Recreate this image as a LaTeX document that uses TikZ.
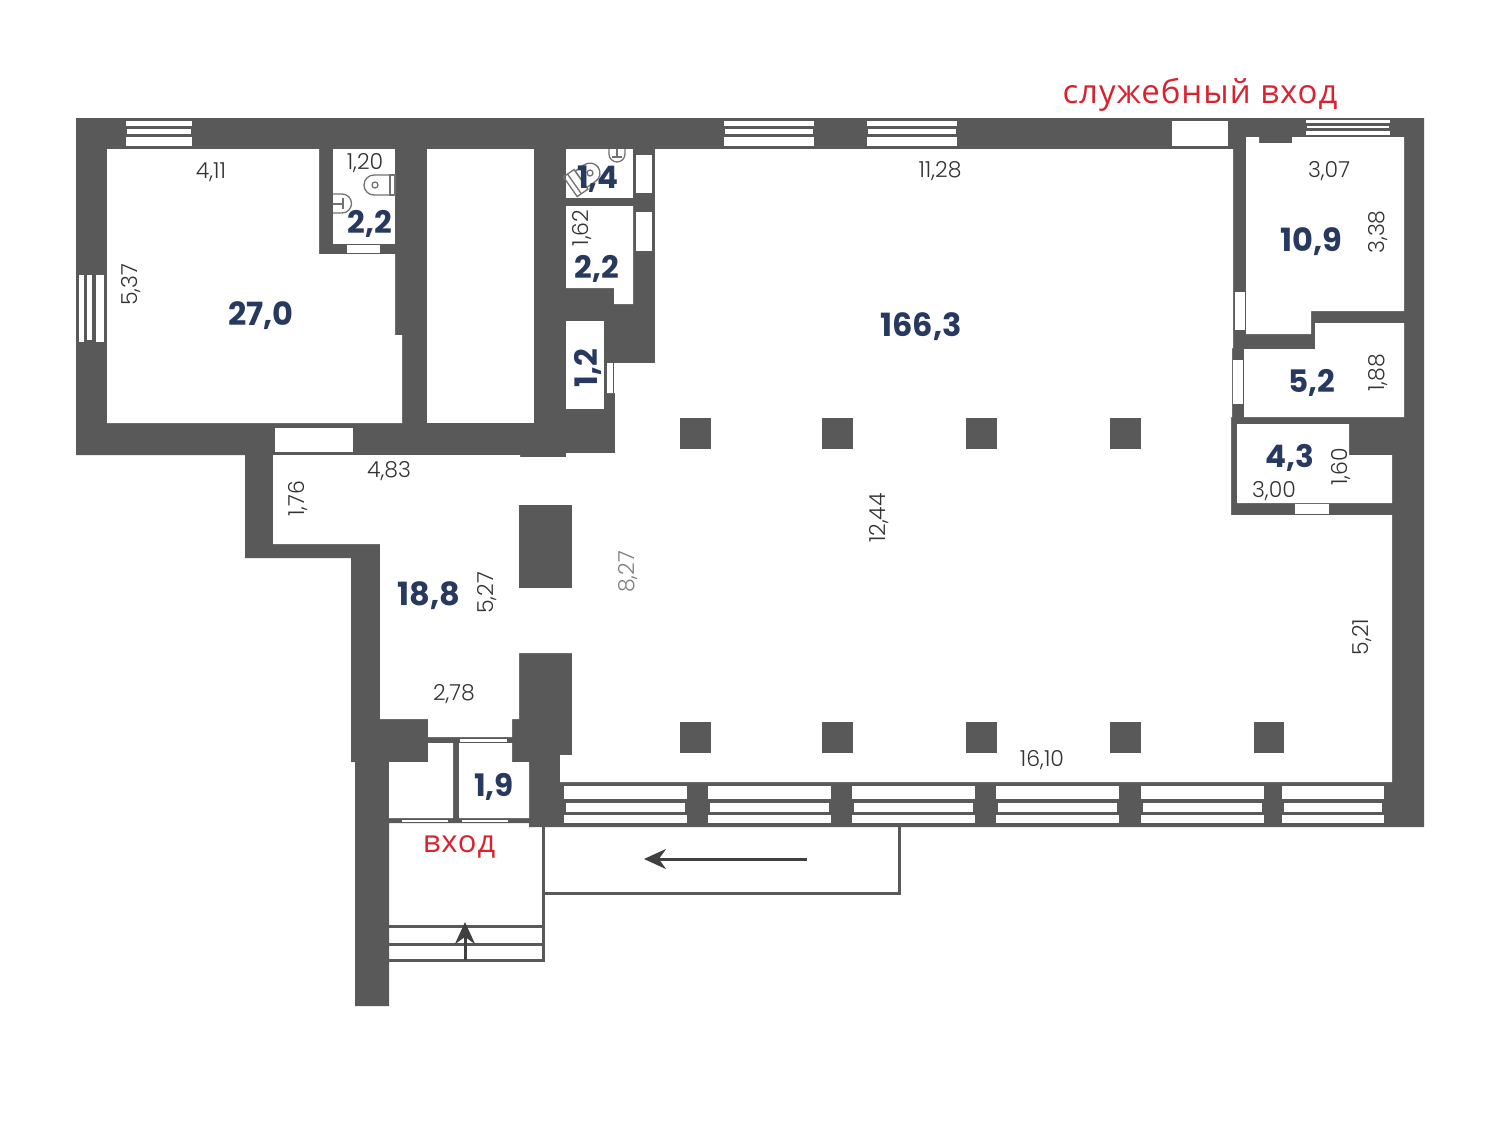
\documentclass[tikz,border=0pt]{standalone}
\usepackage{fontspec}
\setmainfont{Poppins}
\newfontfamily\dimfont{Poppins Light}
\newfontfamily\labelfont[LetterSpace=3]{Open Sans}
\definecolor{wallgrey}{HTML}{595959}
\definecolor{navy}{HTML}{27395F}
\definecolor{dimink}{HTML}{333333}
\definecolor{redink}{HTML}{D8232F}
\usetikzlibrary{arrows.meta}
\tikzset{
  wall/.style={fill=wallgrey},
  room/.style={fill=white},
  opening/.style={fill=white},
  pier/.style={fill=wallgrey},
  area/.style={text=navy,font=\fontsize{32}{32}\selectfont\bfseries,inner sep=0pt},
  areasm/.style={text=navy,font=\fontsize{31}{31}\selectfont\bfseries,inner sep=0pt},
  dim/.style={text=dimink,font=\dimfont\fontsize{22}{22}\selectfont,inner sep=0pt},
  redlabel/.style={text=redink,inner sep=0pt},
  thinline/.style={draw=wallgrey,line width=3pt},
  fixture/.style={draw=wallgrey!85,line width=1.3pt},
  flow/.style={draw=black!75,line width=3pt,-{Stealth[length=22pt,width=20pt]}}
}
\begin{document}
\begin{tikzpicture}[x=1pt,y=-1pt]
\useasboundingbox (0,0) rectangle (1500,1125);
% walls
\path[wall] (76,118)--(1424,118)--(1424,827)--(529,827)--(529,823)--(389,823)--(389,1006)--(355,1006)--(355,762)--(351,762)--(351,558)--(245,558)--(245,455)--(76,455)--cycle;
% main hall
\path[room] (655,149)--(1233,149)--(1233,348)--(1232,348)--(1232,417)--(1231,417)--(1231,515)--(1392,515)--(1392,782)--(560,782)--(560,755)--(572,755)--(572,653)--(519,653)--(519,719)--(512,719)--(512,737)--(428,737)--(428,719)--(380,719)--(380,544)--(273,544)--(273,455)--(520,455)--(520,457)--(566,457)--(566,453)--(615,453)--(615,393)--(607,393)--(607,363)--(655,363)--cycle;
% rooms
\path[room] (107,149)--(319,149)--(319,254)--(395,254)--(395,335)--(402,335)--(402,423)--(107,423)--cycle;
\path[room] (333,149) rectangle (395,244);
\path[room] (427,149) rectangle (534,423);
\path[room] (566,149) rectangle (633,198);
\path[room] (566,206)--(633,206)--(633,304)--(614,304)--(614,288)--(566,288)--cycle;
\path[room] (566,321) rectangle (604,409);
\path[room] (1246,137)--(1259,137)--(1259,143)--(1292,143)--(1292,137)--(1404,137)--(1404,311)--(1311,311)--(1311,334)--(1246,334)--cycle;
\path[room] (1244,349)--(1315,349)--(1315,323)--(1404,323)--(1404,417)--(1244,417)--cycle;
\path[room] (1237,424)--(1349,424)--(1349,455)--(1392,455)--(1392,503)--(1237,503)--cycle;
\path[room] (459,743)--(512,743)--(512,762)--(529,762)--(529,818)--(459,818)--cycle;
\path[room] (428,743)--(453,743)--(453,818)--(389,818)--(389,762)--(428,762)--cycle;
% openings
\foreach \a/\b/\c/\d in {347/245/380/253,636/155/652/193,636/212/652/251,1172/121/1228/146,1235/292/1245/330,1233/360/1243/404,1295/504/1329/514,275/428/353/452,460/738.5/507/741.5,402/819.5/448/822,462/819.5/508/822}
  \path[opening] (\a,\b) rectangle (\c,\d);
\draw[wallgrey,line width=.8pt] (613.5,363)--(613.5,393);
% windows top
\foreach \l/\r in {126/192,724/814,867/957}{
  \path[opening] (\l,121) rectangle (\r,126);
  \path[opening] (\l+1,129) rectangle (\r-1,134);
  \path[opening] (\l,137) rectangle (\r,146);
}
\path[opening] (1306,120) rectangle (1390,123);
\path[opening] (1307,126) rectangle (1389,128);
\path[opening] (1306,131) rectangle (1390,135);
% window left
\path[opening] (79,275) rectangle (84,342);
\path[opening] (87,275) rectangle (92,340);
\path[opening] (96,275) rectangle (104,342);
% windows bottom
\foreach \l/\r in {564/687,708/831,852/975,996/1119,1141/1264,1282/1384}{
  \path[opening] (\l,786) rectangle (\r,799);
  \path[opening] (\l+2,803) rectangle (\r-2,812);
  \path[opening] (\l,815) rectangle (\r,823);
}
% piers
\foreach \x in {680,822,966,1110}{
  \path[pier] (\x,418) rectangle (\x+31,449);
  \path[pier] (\x,722) rectangle (\x+31,753);
}
\path[pier] (1254,722) rectangle (1284,753);
\path[pier] (519,505) rectangle (572,588);
% entrance and ramp
\draw[thinline] (543,827)--(543,961);
\draw[thinline] (389,926)--(543,926);
\draw[thinline] (389,944)--(543,944);
\draw[thinline] (389,960)--(544.5,960);
\draw[thinline] (543,893)--(899,893)--(899,827);
\coordinate (ra) at (807,859);
\coordinate (rb) at (644,859);
\coordinate (ea) at (465,960);
\coordinate (eb) at (465,922);
\draw[flow] (ra)--(rb);
\draw[flow] (ea)--(eb);
% fixtures: WC room left
\draw[fixture] (390,175)--(374,175) arc (-90:-270:10)--(390,195)--cycle;
\draw[fixture] (390,175) rectangle (395,195);
\draw[fixture] (375,185) circle (3);
\draw[fixture] (333,194)--(342,194) arc (-90:90:9.5)--(333,213);
\draw[fixture] (333,204)--(343,204) (343,198)--(343,209);
% fixtures: WC room 1,4
\draw[fixture] (609,149)--(609,154) arc (180:0:8)--(625,149);
\draw[fixture] (617,149)--(617,157) (612,157)--(622,157);
\begin{scope}[shift={(590,173)},rotate=35]
\draw[fixture] (-11,-10)--(0,-10) arc (-90:90:10)--(-11,10)--cycle;
\draw[fixture] (-24,-12) rectangle (-11,12);
\draw[fixture] (-19,-12)--(-19,12);
\draw[fixture] (0,0) circle (3);
\end{scope}
% labels
\node[area] (a1) at (261,316) {27,0};
\node[areasm] (a2) at (370,224) {2,2};
\node[areasm] (a3) at (598,179) {1,4};
\node[areasm] (a4) at (597,269) {2,2};
\node[areasm,rotate=90] (a5) at (588,368) {1,2};
\node[area] (a6) at (921,327) {166,3};
\node[area] (a7) at (1311,242) {10,9};
\node[areasm] (a8) at (1312,383) {5,2};
\node[areasm] (a9) at (1290,458) {4,3};
\node[area] (a10) at (429,596) {18,8};
\node[areasm] (a11) at (494,787) {1,9};
\node[dim] (d1) at (211,172) {4,11};
\node[dim,rotate=90] (d2) at (131,285) {5,37};
\node[dim] (d3) at (365,163) {1,20};
\node[dim,rotate=90] (d4) at (582,228) {1,62};
\node[dim] (d5) at (940,171) {11,28};
\node[dim] (d6) at (1329,171) {3,07};
\node[dim,rotate=90] (d7) at (1378,232) {3,38};
\node[dim,rotate=90] (d8) at (1378,373) {1,88};
\node[dim,rotate=90] (d9) at (1341,467) {1,60};
\node[dim] (d10) at (1274,491) {3,00};
\node[dim] (d11) at (389,471) {4,83};
\node[dim,rotate=90] (d12) at (298,499) {1,76};
\node[dim,rotate=90] (d13) at (487,593) {5,27};
\node[dim,rotate=90,text=gray] (d14) at (628,572) {8,27};
\node[dim,rotate=90] (d15) at (879,518) {12,44};
\node[dim,rotate=90] (d16) at (1362,637) {5,21};
\node[dim] (d17) at (454,694) {2,78};
\node[dim] (d18) at (1042,760) {16,10};
\node[redlabel,font=\labelfont\fontsize{33}{33}\selectfont] (r1) at (1200,95) {служебный вход};
\node[redlabel,font=\labelfont\fontsize{31}{31}\selectfont] (r2) at (459,847) {вход};
\end{tikzpicture}
\end{document}
